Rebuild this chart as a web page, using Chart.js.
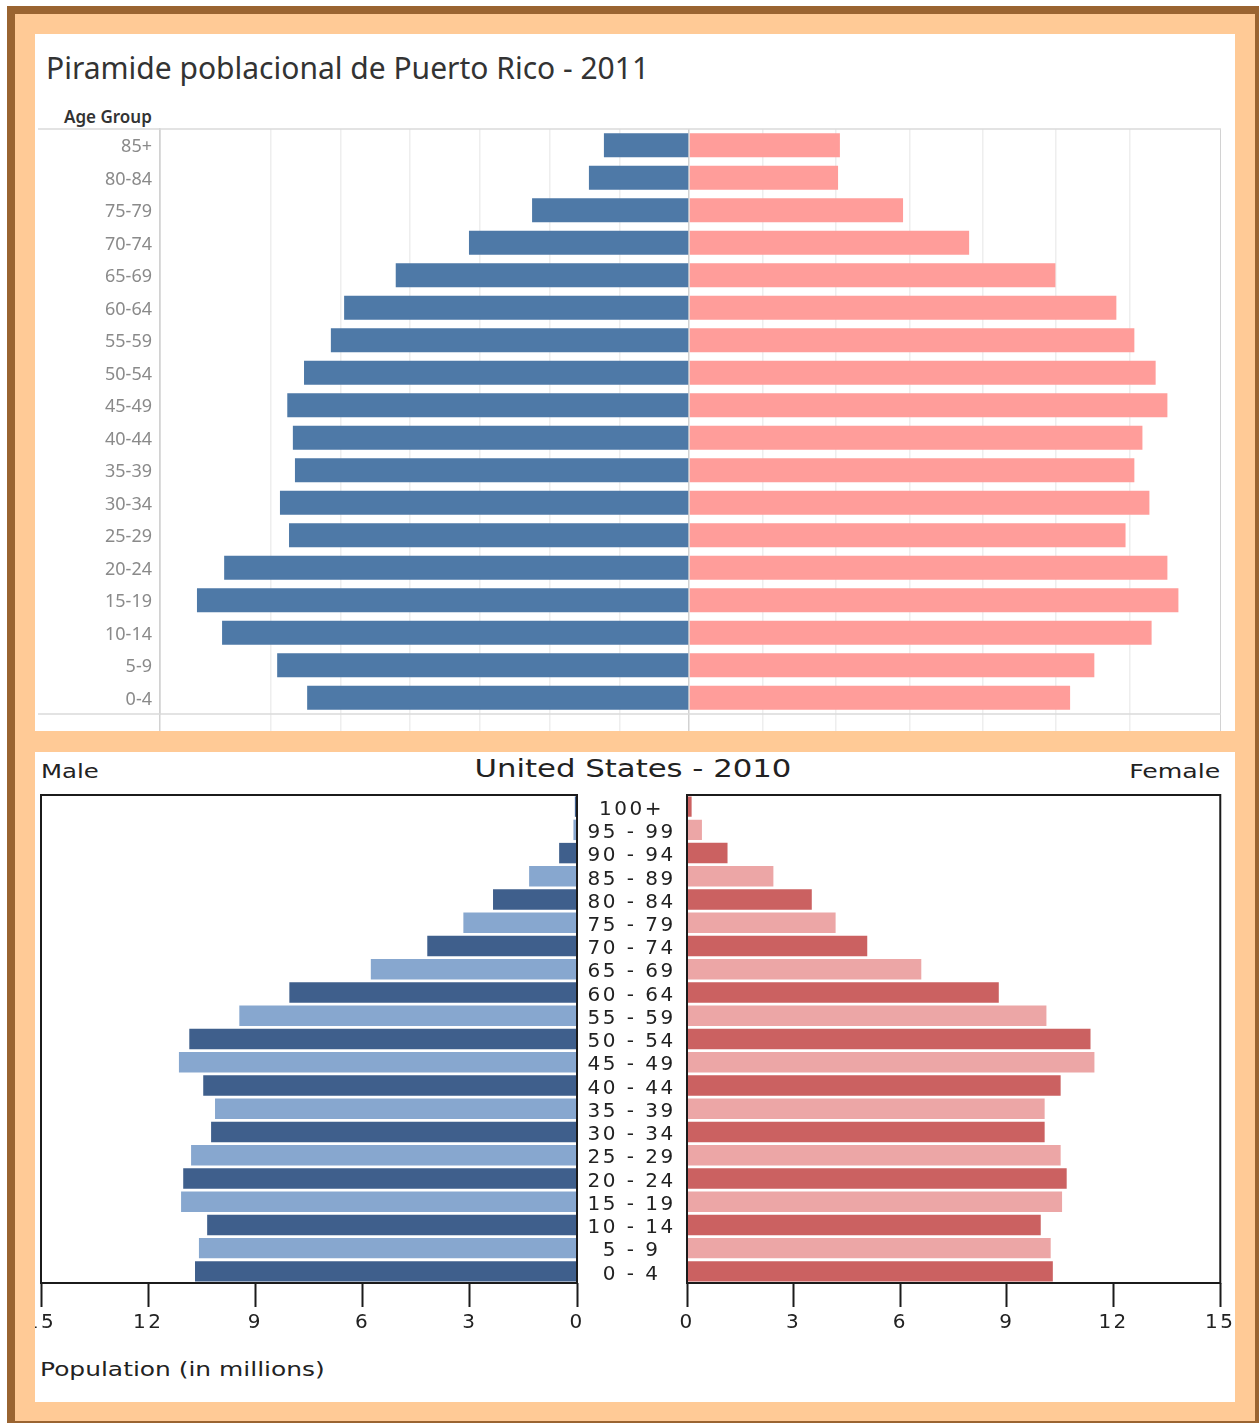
<!DOCTYPE html>
<html>
<head>
<title>Piramides poblacionales</title>
<script src="https://cdn.jsdelivr.net/npm/chart.js@4.4.0/dist/chart.umd.min.js"></script>
<style>
body { margin: 0; background: #fff; width: 1259px; height: 1423px; overflow: hidden; position: relative; }
#brown { position: absolute; left: 7px; top: 6px; width: 1260px; height: 1425px; background: #9a6431; }
#peach { position: absolute; left: 15px; top: 14px; width: 1240px; height: 1407px; background: #ffca96; }
.panel { position: absolute; left: 35px; width: 1200px; background: #fff; overflow: hidden; }
#top { top: 34px; height: 697px; }
#bottom { top: 752px; height: 650px; }
canvas { position: absolute; }
.txt { position: absolute; white-space: nowrap; }
#prTitle { left: 11px; top: 16px; font: 30px "Noto Sans", sans-serif; line-height: 36px; color: #333; }
#ageHead { left: 29px; top: 72px; font: 600 17px "Noto Sans", sans-serif; line-height: 22px; color: #333; }
.us { font-family: "DejaVu Sans", sans-serif; color: #222; }
#male { left: 6px; top: 7px; font-size: 20px; line-height: 24px; transform: scaleX(1.22); transform-origin: left center; }
#female { right: 15px; top: 7px; font-size: 20px; line-height: 24px; transform: scaleX(1.26); transform-origin: right center; }
#usTitle { left: 0; width: 1196px; text-align: center; top: 2px; font-size: 24px; line-height: 30px; transform: scaleX(1.28); transform-origin: 598px center; }
#popTitle { left: 5px; top: 605px; font-size: 20px; line-height: 24px; transform: scaleX(1.245); transform-origin: left center; }
</style>
</head>
<body>
<div id="brown"></div>
<div id="peach"></div>

<div class="panel" id="top">
  <div class="txt" id="prTitle">Piramide poblacional de Puerto Rico - 2011</div>
  <div class="txt" id="ageHead">Age Group</div>
  <canvas id="prMaleChart" width="651" height="603" style="left:3px; top:94px; width:651px; height:603px;"></canvas>
  <canvas id="prFemaleChart" width="532" height="603" style="left:654px; top:94px; width:532px; height:603px;"></canvas>
</div>

<div class="panel" id="bottom">
  <div class="txt us" id="male">Male</div>
  <div class="txt us" id="usTitle">United States - 2010</div>
  <div class="txt us" id="female">Female</div>
  <canvas id="usMaleChart" width="563" height="550" style="left:-8px; top:41px; width:563px; height:550px;"></canvas>
  <canvas id="usFemaleChart" width="660" height="550" style="left:542px; top:41px; width:660px; height:550px;"></canvas>
  <div class="txt us" id="popTitle">Population (in millions)</div>
</div>

<script>
// Puerto Rico 2011 (thousands)
var prAges = ['85+', '80-84', '75-79', '70-74', '65-69', '60-64', '55-59', '50-54', '45-49',
              '40-44', '35-39', '30-34', '25-29', '20-24', '15-19', '10-14', '5-9', '0-4'];
var prMale = [24.4, 28.7, 45.0, 63.1, 84.1, 98.9, 102.7, 110.4, 115.2,
              113.6, 113.0, 117.3, 114.7, 133.3, 141.1, 133.9, 118.1, 109.5];
var prFemale = [41.1, 40.6, 58.3, 76.3, 99.8, 116.4, 121.3, 127.1, 130.3,
                123.5, 121.3, 125.4, 118.9, 130.3, 133.3, 126.0, 110.4, 103.8];

// United States 2010 (millions)
var usAges = ['100+', '95 - 99', '90 - 94', '85 - 89', '80 - 84', '75 - 79', '70 - 74',
              '65 - 69', '60 - 64', '55 - 59', '50 - 54', '45 - 49', '40 - 44', '35 - 39',
              '30 - 34', '25 - 29', '20 - 24', '15 - 19', '10 - 14', '5 - 9', '0 - 4'];
var usMale = [0.06, 0.10, 0.50, 1.34, 2.35, 3.18, 4.19, 5.77, 8.05, 9.45, 10.85,
              11.14, 10.46, 10.13, 10.24, 10.80, 11.02, 11.08, 10.35, 10.58, 10.69];
var usFemale = [0.13, 0.42, 1.14, 2.43, 3.51, 4.18, 5.07, 6.59, 8.77, 10.11, 11.35,
                11.46, 10.51, 10.06, 10.06, 10.51, 10.68, 10.55, 9.95, 10.23, 10.29];
var usTicks = [0, 3, 6, 9, 12, 15];

var PR_MALE_MAX = 151.7;
var PR_FEMALE_MAX = 144.9;

// light rules across the top and bottom of the tableau panes
var rowRules = {
  id: 'rowRules',
  afterDraw: function(chart) {
    var ctx = chart.ctx, a = chart.chartArea;
    ctx.save();
    ctx.strokeStyle = '#dadada';
    ctx.lineWidth = 1.5;
    [a.top, a.bottom].forEach(function(y) {
      ctx.beginPath();
      ctx.moveTo(0, y);
      ctx.lineTo(a.right, y);
      ctx.stroke();
    });
    ctx.restore();
  }
};

// black box around the US panes
var boxFrame = {
  id: 'boxFrame',
  afterDraw: function(chart) {
    var ctx = chart.ctx, a = chart.chartArea;
    ctx.save();
    ctx.strokeStyle = '#1b1b1b';
    ctx.lineWidth = 2;
    ctx.strokeRect(a.left, a.top, a.right - a.left, a.bottom - a.top);
    ctx.restore();
  }
};

// the US picture has wide, stretched lettering
var spaced = {
  id: 'spaced',
  beforeDraw: function(chart) { chart.ctx.letterSpacing = '2.5px'; }
};

function prGrid(max) {
  return function(c) {
    var v = c.tick ? c.tick.value : null;
    return (v === 0 || Math.abs(v - max) < 0.01) ? '#d2d2d2' : '#eeeeee';
  };
}

function prChart(id, labels, values, color, max, isMale) {
  return new Chart(document.getElementById(id), {
    type: 'bar',
    data: {
      labels: labels,
      datasets: [{
        data: values,
        backgroundColor: color,
        borderWidth: 0,
        categoryPercentage: 1,
        barPercentage: 0.74
      }]
    },
    options: {
      indexAxis: 'y',
      responsive: false,
      animation: false,
      layout: { padding: { top: 1, left: 0, right: 0, bottom: 0 } },
      plugins: { legend: { display: false }, tooltip: { enabled: false } },
      scales: {
        x: {
          type: 'linear',
          min: 0,
          max: max,
          reverse: isMale,
          ticks: { display: false, stepSize: 20 },
          grid: { color: prGrid(max), lineWidth: 1.5, drawTicks: true, tickLength: 17, tickColor: prGrid(max) },
          border: { display: false },
          afterFit: function(s) { s.height = 17; }
        },
        y: {
          display: isMale,
          grid: { display: false, drawTicks: false },
          border: { display: true, color: '#d2d2d2', width: 1.5 },
          ticks: { color: '#8a8a8a', padding: 8, labelOffset: 2, font: { family: 'Noto Sans', size: 18 } },
          afterFit: function(s) {
            if (isMale) s.width = 122;
            s.paddingTop = 0;
            s.paddingBottom = 0;
          }
        }
      }
    },
    plugins: [rowRules]
  });
}

prChart('prMaleChart', prAges, prMale, '#4e79a7', PR_MALE_MAX, true);
prChart('prFemaleChart', prAges, prFemale, '#ff9d9a', PR_FEMALE_MAX, false);

function stripes(dark, light, n) {
  var out = [];
  for (var i = 0; i < n; i++) out.push(i % 2 === 0 ? dark : light);
  return out;
}

function usChart(id, values, colors, isMale) {
  return new Chart(document.getElementById(id), {
    type: 'bar',
    data: {
      labels: usAges,
      datasets: [{
        data: values,
        backgroundColor: colors,
        borderWidth: 0,
        categoryPercentage: 1,
        barPercentage: 0.88
      }]
    },
    options: {
      indexAxis: 'y',
      responsive: false,
      animation: false,
      layout: { padding: isMale ? { top: 2, left: 14, right: 13, bottom: 0 }
                                 : { top: 2, left: 0, right: 14, bottom: 0 } },
      plugins: { legend: { display: false }, tooltip: { enabled: false } },
      scales: {
        x: {
          type: 'linear',
          min: 0,
          max: 15,
          reverse: isMale,
          afterBuildTicks: function(s) { s.ticks = usTicks.map(function(v) { return { value: v }; }); },
          ticks: { color: '#222', padding: 4, maxRotation: 0, autoSkip: false,
                   font: { family: 'DejaVu Sans', size: 20 } },
          grid: { display: true, drawOnChartArea: false, drawTicks: true, tickLength: 24,
                  tickColor: '#1b1b1b', tickWidth: 2 },
          border: { display: false },
          afterFit: function(s) { s.height = 60; }
        },
        y: {
          display: !isMale,
          grid: { display: false, drawTicks: false },
          border: { display: false },
          ticks: { color: '#222', padding: 20, crossAlign: 'center', autoSkip: false, labelOffset: 3,
                   font: { family: 'DejaVu Sans', size: 20 } },
          afterFit: function(s) {
            if (!isMale) s.width = 110;
            s.paddingTop = 0;
            s.paddingBottom = 0;
          }
        }
      }
    },
    plugins: [spaced, boxFrame]
  });
}

usChart('usMaleChart', usMale, stripes('#3f5f8c', '#87a7cf', usMale.length), true);
usChart('usFemaleChart', usFemale, stripes('#cb6161', '#eca6a6', usFemale.length), false);
</script>
</body>
</html>
